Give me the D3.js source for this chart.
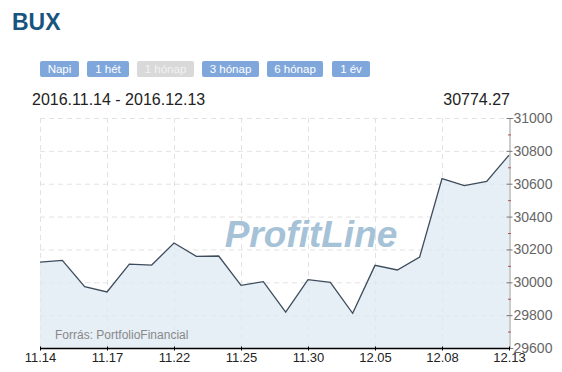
<!DOCTYPE html>
<html>
<head>
<meta charset="utf-8">
<script src="https://d3js.org/d3.v7.min.js"></script>
<style>
  body { margin: 0; background: #fff; font-family: Arial, "Liberation Sans", sans-serif; }
</style>
</head>
<body>
<script>
// trading days and closing values
var dates = ["11.14","11.15","11.16","11.17","11.18","11.21","11.22","11.23","11.24","11.25",
             "11.28","11.29","11.30","12.01","12.02","12.05","12.06","12.07","12.08","12.09",
             "12.12","12.13"];
var values = [30123, 30133, 29973, 29941, 30111, 30105, 30239, 30158, 30160, 29981,
              30004, 29819, 30016, 29999, 29811, 30103, 30075, 30154, 30631, 30588,
              30614, 30774.27];
var tickDates = ["11.14","11.17","11.22","11.25","11.30","12.05","12.08","12.13"];
var yTicks = [29600, 29800, 30000, 30200, 30400, 30600, 30800, 31000];
var buttons = ["Napi", "1 hét", "1 hónap", "3 hónap", "6 hónap", "1 év"];
var activeButton = "1 hónap";

var W = 562, H = 372;
var pL = 40, pR = 509, pT = 118, pB = 348;

var svg = d3.select("body").append("svg")
  .attr("width", W).attr("height", H);

svg.append("text")
  .attr("x", 12).attr("y", 30)
  .style("font", "bold 23px Arial, 'Liberation Sans', sans-serif")
  .style("fill", "#17557f")
  .text("BUX");

// period buttons
var bx = [40, 87, 137, 202, 267, 332];
var bw = [39, 42, 57, 57, 56, 38];
var btn = svg.selectAll(".btn").data(buttons).enter().append("g")
  .attr("class", "btn")
  .attr("transform", (d, i) => "translate(" + bx[i] + ",61)");
btn.append("rect")
  .attr("width", (d, i) => bw[i]).attr("height", 16).attr("rx", 2)
  .style("fill", d => d === activeButton ? "#d9d9d9" : "#80a7dc");
btn.append("text")
  .attr("x", (d, i) => bw[i] / 2).attr("y", 12)
  .attr("text-anchor", "middle")
  .style("font", "11.5px Arial, 'Liberation Sans', sans-serif")
  .style("fill", d => d === activeButton ? "#f2f2f2" : "#fff")
  .text(d => d);

svg.append("text")
  .attr("x", 32).attr("y", 105)
  .style("font", "16px Arial, 'Liberation Sans', sans-serif")
  .style("fill", "#222")
  .text("2016." + dates[0] + " - 2016." + dates[dates.length - 1]);

svg.append("text")
  .attr("x", 510).attr("y", 105)
  .attr("text-anchor", "end")
  .style("font", "16px Arial, 'Liberation Sans', sans-serif")
  .style("fill", "#222")
  .text(values[values.length - 1].toFixed(2));

var x = d3.scaleLinear().domain([0, dates.length - 1]).range([pL, pR]);
var y = d3.scaleLinear().domain([29600, 31000]).range([pB, pT]);

// grid
svg.append("g").selectAll("line").data(yTicks.slice(1)).enter().append("line")
  .attr("x1", pL).attr("x2", pR)
  .attr("y1", d => y(d) + 0.5).attr("y2", d => y(d) + 0.5)
  .style("stroke", "#e2e2e2").style("stroke-dasharray", "5,4");
svg.append("g").selectAll("line").data(tickDates.slice(0, -1)).enter().append("line")
  .attr("x1", d => x(dates.indexOf(d)) + 0.5).attr("x2", d => x(dates.indexOf(d)) + 0.5)
  .attr("y1", pT).attr("y2", pB)
  .style("stroke", "#e2e2e2").style("stroke-dasharray", "5,4");

// watermark
svg.append("text")
  .attr("x", 311).attr("y", 247)
  .attr("text-anchor", "middle")
  .style("font", "italic bold 37px Arial, 'Liberation Sans', sans-serif")
  .style("fill", "#a6c2d7")
  .text("ProfitLine");

// area + line
var area = d3.area()
  .x((d, i) => x(i)).y0(pB).y1(d => y(d));
var line = d3.line()
  .x((d, i) => x(i)).y(d => y(d));
svg.append("path").datum(values)
  .attr("d", area)
  .style("fill", "#dde8f3").style("fill-opacity", 0.75);
svg.append("path").datum(values)
  .attr("d", line)
  .style("fill", "none").style("stroke", "#3d4c5c").style("stroke-width", 1.3);

svg.append("text")
  .attr("x", 55).attr("y", 339)
  .style("font", "12px Arial, 'Liberation Sans', sans-serif")
  .style("fill", "#888")
  .text("Forrás: PortfolioFinancial");

// right axis
var yAxis = d3.axisRight(y).tickValues(yTicks).tickSize(4).tickFormat(d3.format("d"));
var ya = svg.append("g").attr("transform", "translate(" + (pR + 0.5) + ",0)").call(yAxis);
ya.select(".domain").style("stroke", "#999");
ya.selectAll(".tick line").style("stroke", "#777").attr("x1", -3).attr("x2", 3);
ya.selectAll(".tick text").attr("x", 4)
  .style("font", "14px Arial, 'Liberation Sans', sans-serif").style("fill", "#666");
var minor = d3.range(29700, 31000, 200);
svg.append("g").selectAll("line").data(minor).enter().append("line")
  .attr("x1", pR - 1).attr("x2", pR + 2)
  .attr("y1", d => y(d) + 0.5).attr("y2", d => y(d) + 0.5)
  .style("stroke", "#a55");

// bottom axis
var xAxis = d3.axisBottom(x)
  .tickValues(tickDates.map(d => dates.indexOf(d)))
  .tickFormat(i => dates[i]).tickSize(4);
var xa = svg.append("g").attr("transform", "translate(0," + (pB + 0.5) + ")").call(xAxis);
xa.select(".domain").style("stroke", "#000").style("stroke-width", 1.5).attr("d", "M" + pL + ",0H" + pR);
xa.selectAll(".tick line").style("stroke", "#000").attr("y1", -2).attr("y2", 2);
xa.selectAll(".tick text").attr("y", 4)
  .style("font", "13px Arial, 'Liberation Sans', sans-serif").style("fill", "#222");
</script>
</body>
</html>
